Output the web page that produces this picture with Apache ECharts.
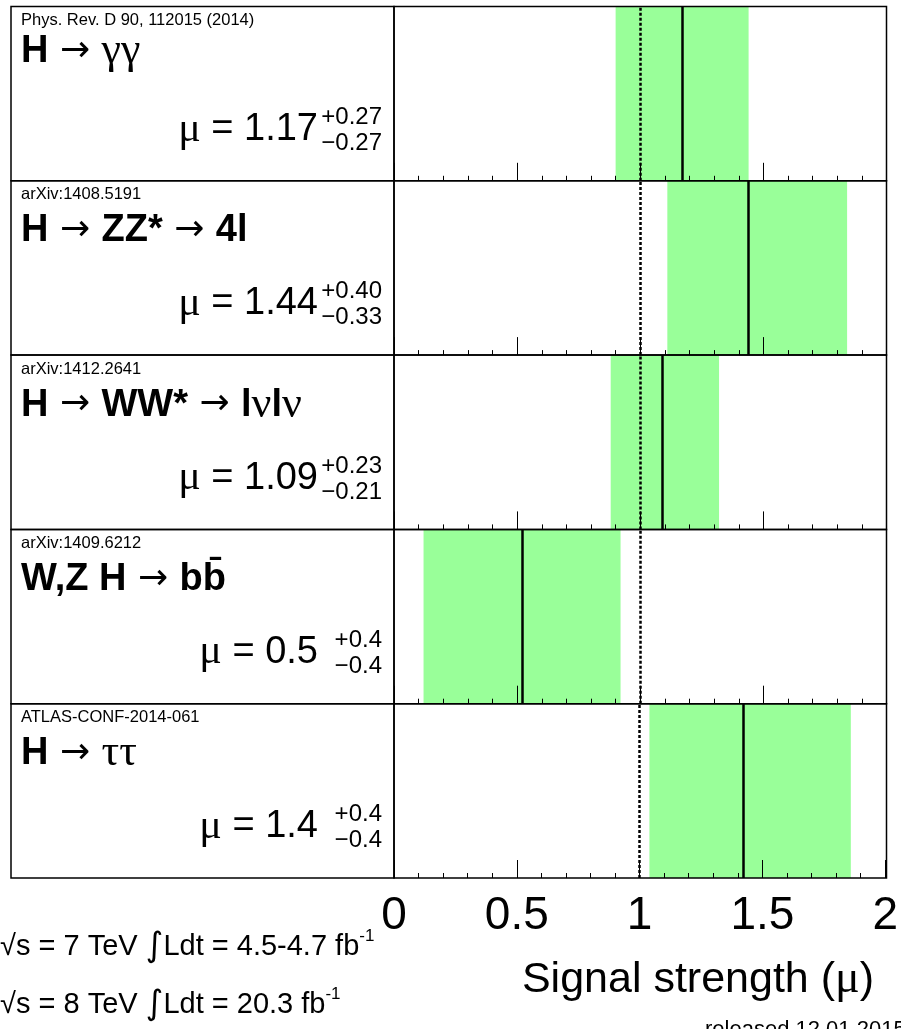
<!DOCTYPE html>
<html><head><meta charset="utf-8">
<script src="https://cdn.jsdelivr.net/npm/echarts@6/dist/echarts.min.js"></script>
<style>html,body{margin:0;padding:0;background:#fff}#c{width:901px;height:1029px}</style>
</head><body><div id="c"></div>
<script>
// ---- data ----
const references = ['Phys. Rev. D 90, 112015 (2014)', 'arXiv:1408.5191', 'arXiv:1412.2641', 'arXiv:1409.6212', 'ATLAS-CONF-2014-061'];
const channelTitles = [
  '{b|H}{a| → }{g|γγ}',
  '{b|H}{a| → }{b|ZZ*}{a| → }{b|4l}',
  '{b|H}{a| → }{b|WW*}{a| → }{b|l}{g|ν}{b|l}{g|ν}',
  '{b|W,Z H}{a| → }{b|bb̄}',
  '{b|H}{a| → }{g|ττ}'
];
const muCentral = [1.17, 1.44, 1.09, 0.52, 1.42];
const muLow     = [0.90, 1.11, 0.88, 0.12, 1.04];
const muHigh    = [1.44, 1.84, 1.32, 0.92, 1.86];
const muText    = ['1.17', '1.44', '1.09', '0.5', '1.4'];
const upText    = ['+0.27', '+0.40', '+0.23', '+0.4', '+0.4'];
const downText  = ['−0.27', '−0.33', '−0.21', '−0.4', '−0.4'];
const smValue = 1;
const tickValues = [0, 0.5, 1, 1.5, 2];
const tickLabels = ['0', '0.5', '1', '1.5', '2'];
const lumiLines = [
  ['√s = 7 TeV ', '∫', 'Ldt = 4.5-4.7 fb', '-1'],
  ['√s = 8 TeV ', '∫', 'Ldt = 20.3 fb', '-1']
];
const xTitle = ['Signal strength (', 'μ', ')'];
const releaseNote = 'released 12.01.2015';

// ---- layout ----
const SANS = '"Liberation Sans", Arial, Helvetica, sans-serif';
const SERIF = '"Liberation Serif", "DejaVu Serif", serif';
const BOX_L = 11, PLOT_L = 394, PLOT_R = 886.5, TOP0 = 6.5, PITCH = 174.3;
const GREEN = '#99ff99';
const n = references.length;

const chart = echarts.init(document.getElementById('c'), null, {renderer: 'canvas'});

const grids = [], xAxes = [], yAxes = [], series = [], graphics = [];
for (let i = 0; i < n; i++) {
  const T = TOP0 + i * PITCH;
  grids.push({left: PLOT_L, width: PLOT_R - PLOT_L, top: T, height: PITCH, show: false});
  xAxes.push({
    gridIndex: i, type: 'value', min: 0, max: 2, interval: 0.5, z: 10,
    axisLine: {show: false},
    axisTick: {show: true, inside: true, length: 18, lineStyle: {color: '#000', width: 1}},
    minorTick: {show: true, splitNumber: 5, length: 5, lineStyle: {color: '#000', width: 1}},
    splitLine: {show: false}, minorSplitLine: {show: false},
    axisLabel: {
      show: i === n - 1, showMinLabel: true, showMaxLabel: true,
      margin: 38, verticalAlign: 'middle', color: '#000', fontSize: 46, fontFamily: SANS,
      formatter: v => { const k = tickValues.indexOf(+v.toFixed(2)); return k >= 0 ? tickLabels[k] : ''; }
    }
  });
  yAxes.push({gridIndex: i, type: 'value', min: 0, max: 1, show: false});
  series.push({
    type: 'scatter', xAxisIndex: i, yAxisIndex: i, data: [[muCentral[i], 0.5]],
    symbolSize: 0, silent: true, animation: false,
    markArea: {silent: true, itemStyle: {color: GREEN}, data: [[{xAxis: muLow[i]}, {xAxis: muHigh[i]}]]},
    markLine: {
      silent: true, symbol: ['none', 'none'], label: {show: false}, animation: false,
      data: [
        {xAxis: muCentral[i], lineStyle: {color: '#000', type: 'solid', width: 2.5}},
        {xAxis: smValue, lineStyle: {color: '#000', type: [3, 2], width: 2.5}}
      ]
    }
  });
  // frames
  graphics.push({type: 'rect', z: 100, shape: {x: BOX_L, y: T, width: PLOT_L - BOX_L, height: PITCH},
    style: {fill: 'none', stroke: '#000', lineWidth: 1.5}});
  graphics.push({type: 'rect', z: 100, shape: {x: PLOT_L, y: T, width: PLOT_R - PLOT_L, height: PITCH},
    style: {fill: 'none', stroke: '#000', lineWidth: 1.5}});
  // texts
  graphics.push({type: 'text', z: 101, x: 21, y: T + 14,
    style: {text: references[i], font: '16.5px ' + SANS, fill: '#000', verticalAlign: 'middle', align: 'left'}});
  graphics.push({type: 'text', z: 101, x: 21, y: T + (i === 0 ? 45 : 50),
    style: {text: channelTitles[i], verticalAlign: 'middle', align: 'left', fill: '#000',
      rich: {
        b: {fontFamily: SANS, fontWeight: 'bold', fontSize: 38, fill: '#000', lineHeight: 46},
        a: {fontFamily: '"DejaVu Sans", sans-serif', fontSize: 36, fill: '#000', lineHeight: 46},
        g: {fontFamily: SERIF, fontSize: 44, fill: '#000', lineHeight: 46}
      }}});
  graphics.push({type: 'text', z: 101, x: 318, y: T + 123,
    style: {text: '{s|μ}{n| = ' + muText[i] + '}', verticalAlign: 'middle', align: 'right', fill: '#000',
      rich: {
        s: {fontFamily: SERIF, fontSize: 42, fill: '#000', lineHeight: 46},
        n: {fontFamily: SANS, fontSize: 38, fill: '#000', lineHeight: 46}
      }}});
  graphics.push({type: 'text', z: 101, x: 382, y: T + 111,
    style: {text: upText[i], font: '24px ' + SANS, fill: '#000', verticalAlign: 'middle', align: 'right'}});
  graphics.push({type: 'text', z: 101, x: 382, y: T + 137,
    style: {text: downText[i], font: '24px ' + SANS, fill: '#000', verticalAlign: 'middle', align: 'right'}});
}

// bottom texts
const lumiY = [947, 1005];
lumiLines.forEach((L, k) => {
  graphics.push({type: 'text', z: 101, x: 0, y: lumiY[k],
    style: {text: '{n|' + L[0] + '}{i|' + L[1] + '}{n|' + L[2] + '}{u|' + L[3] + '}',
      verticalAlign: 'middle', align: 'left', fill: '#000',
      rich: {
        n: {fontFamily: SANS, fontSize: 29, fill: '#000', lineHeight: 38, verticalAlign: 'middle'},
        i: {fontFamily: '"DejaVu Sans", sans-serif', fontSize: 34, fill: '#000', lineHeight: 38, verticalAlign: 'middle'},
        u: {fontFamily: SANS, fontSize: 17, fill: '#000', lineHeight: 20, verticalAlign: 'top'}
      }}});
});
graphics.push({type: 'text', z: 101, x: 874, y: 980,
  style: {text: '{n|' + xTitle[0] + '}{s|' + xTitle[1] + '}{n|' + xTitle[2] + '}',
    verticalAlign: 'middle', align: 'right', fill: '#000',
    rich: {
      n: {fontFamily: SANS, fontSize: 43, fill: '#000', lineHeight: 50},
      s: {fontFamily: SERIF, fontSize: 46, fill: '#000', lineHeight: 50}
    }}});
graphics.push({type: 'text', z: 101, x: 705, y: 1030,
  style: {text: releaseNote, font: '22px ' + SANS, fill: '#000', verticalAlign: 'middle', align: 'left'}});

chart.setOption({
  animation: false,
  backgroundColor: '#fff',
  grid: grids, xAxis: xAxes, yAxis: yAxes, series: series,
  graphic: {elements: graphics}
});
</script>
</body></html>
